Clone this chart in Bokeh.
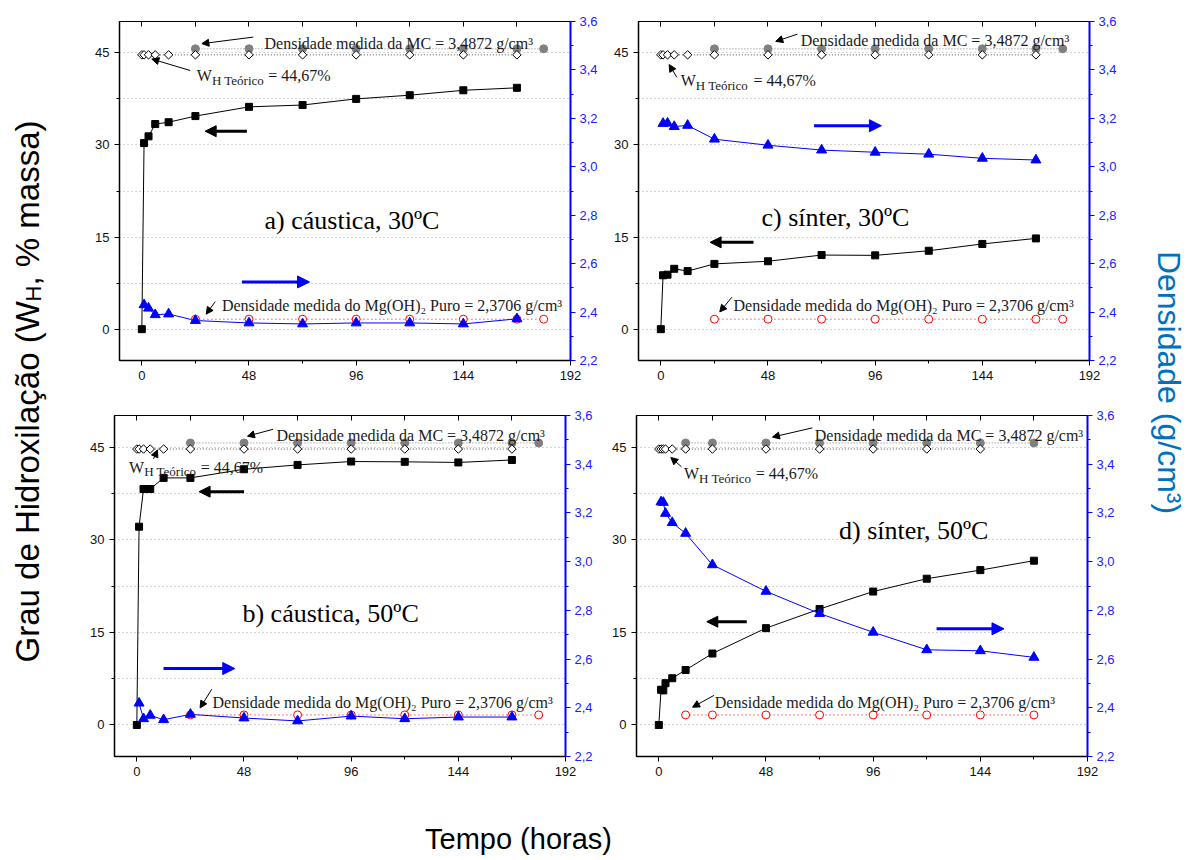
from math import pi
from bokeh.plotting import figure
from bokeh.models import (Range1d, LinearAxis, FixedTicker, CustomJSTickFormatter,
                          Label, Arrow, NormalHead)
from bokeh.layouts import row, column
from bokeh.embed import file_html
from bokeh.resources import INLINE

# ---------------- data ----------------
X_TICKS = [0, 48, 96, 144, 192]
X_MINOR = [24, 72, 120, 168]
Y_TICKS = [0, 15, 30, 45]
Y_MINOR = [7.5, 22.5, 37.5]
D_TICKS = [2.2, 2.4, 2.6, 2.8, 3.0, 3.2, 3.4, 3.6]
D_MINOR = [2.3, 2.5, 2.7, 2.9, 3.1, 3.3, 3.5]

MC_DENS = 3.4872      # Densidade medida da MC
MGOH2_DENS = 2.3706   # Densidade medida do Mg(OH)2 puro
WH_THEO = 44.67       # W_H teorico

# a) caustica, 30 C
t_a = [0, 1, 3, 6, 12, 24, 48, 72, 96, 120, 144, 168]
wh_a = [0.0, 30.3, 31.4, 33.4, 33.7, 34.7, 36.2, 36.5, 37.5, 38.1, 38.9, 39.3]
td_a = [1, 3, 6, 12, 24, 48, 72, 96, 120, 144, 168]
dens_a = [2.430, 2.416, 2.389, 2.392, 2.365, 2.355, 2.351, 2.355, 2.355, 2.351, 2.372]
tref_a = [24, 48, 72, 96, 120, 144, 168, 180]
ttheo_a = [0, 1, 3, 6, 12, 24, 48, 72, 96, 120, 144, 168]

# b) caustica, 50 C
t_b = [0, 1, 3, 6, 12, 24, 48, 72, 96, 120, 144, 168]
wh_b = [0.0, 32.1, 38.2, 38.2, 40.0, 40.0, 41.4, 42.1, 42.65, 42.6, 42.5, 42.9]
td_b = [1, 3, 6, 12, 24, 48, 72, 96, 120, 144, 168]
dens_b = [2.419, 2.355, 2.369, 2.351, 2.373, 2.358, 2.346, 2.366, 2.355, 2.362, 2.362]
tref_b = [24, 48, 72, 96, 120, 144, 168, 180]
ttheo_b = [0, 1, 3, 6, 12, 24, 48, 72, 96, 120, 144, 168]

# c) sinter, 30 C
t_c = [0, 1, 3, 6, 12, 24, 48, 72, 96, 120, 144, 168]
wh_c = [0.0, 8.78, 8.87, 9.83, 9.46, 10.63, 11.06, 12.07, 12.02, 12.77, 13.88, 14.78]
td_c = [1, 3, 6, 12, 24, 48, 72, 96, 120, 144, 168]
dens_c = [3.179, 3.180, 3.166, 3.171, 3.114, 3.089, 3.069, 3.060, 3.052, 3.035, 3.028]
tref_c = [24, 48, 72, 96, 120, 144, 168, 180]
ttheo_c = [0, 1, 3, 6, 12, 24, 48, 72, 96, 120, 144, 168]

# d) sinter, 50 C
t_d = [0, 1, 2, 3, 6, 12, 24, 48, 72, 96, 120, 144, 168]
wh_d = [0.0, 5.71, 5.60, 6.77, 7.57, 8.90, 11.57, 15.68, 18.77, 21.60, 23.68, 25.07, 26.60]
td_d = [1, 2, 3, 6, 12, 24, 48, 72, 96, 120, 144, 168]
dens_d = [3.245, 3.243, 3.198, 3.160, 3.116, 2.987, 2.878, 2.787, 2.710, 2.638, 2.634, 2.607]
tref_d = [12, 24, 48, 72, 96, 120, 144, 168]
ttheo_d = [0, 1, 2, 3, 6, 12, 24, 48, 72, 96, 120, 144]

TITLES = ["a) cáustica, 30ºC", "b) cáustica, 50ºC", "c) sínter, 30ºC", "d) sínter, 50ºC"]
MC_TEXT = "Densidade medida da MC = 3,4872 g/cm³"
MG_TEXT = "Densidade medida do Mg(OH)₂ Puro = 2,3706 g/cm³"

# ---------------- annotation placement (data units of each panel) ----------------
ANN = {
    "a": dict(mc=(54.95, 46.56), mc_arr=((49.9, 47.56), (26.9, 46.49)),
              w=(24.65, 41.32), wsub=(31.38, 40.52), weq=(56.61, 41.32),
              w_arr=((21.65, 42.12), (4.48, 43.99)),
              title=(54.95, 17.71), k_arr=((47.06, 32.24), (28.37, 32.24)),
              b_arr=((44.82, 7.69), (75.12, 7.69)),
              mg=(35.86, 3.80), mg_arr=((32.86, 4.48), (28.82, 2.45))),
    "b": dict(mc=(62.53, 46.91), mc_arr=((61.0, 47.87), (49.55, 46.75)),
              w=(-3.45, 41.76), wsub=(3.27, 40.96), weq=(28.65, 41.76),
              w_arr=((7.48, 43.08), (9.27, 44.52)),
              title=(47.31, 18.03), k_arr=((48.03, 37.77), (27.89, 37.77)),
              b_arr=((11.95, 9.14), (43.87, 9.14)),
              mg=(33.89, 3.67), mg_arr=((33.57, 5.79), (28.33, 2.76))),
    "c": dict(mc=(62.67, 47.08), mc_arr=((61.19, 48.04), (51.48, 46.86)),
              w=(8.95, 40.42), wsub=(15.67, 39.63), weq=(41.5, 40.42),
              w_arr=((7.16, 41.02), (3.72, 43.09)),
              title=(45.08, 18.13), k_arr=((41.5, 14.14), (22.07, 14.14)),
              b_arr=((68.62, 33.13), (98.79, 33.13)),
              mg=(32.54, 3.88), mg_arr=((31.8, 5.2), (26.41, 2.81))),
    "d": dict(mc=(69.83, 46.92), mc_arr=((68.8, 48.1), (50.9, 46.6)),
              w=(11.33, 40.75), wsub=(18.04, 39.95), weq=(43.42, 40.75),
              w_arr=((10.16, 41.8), (5.37, 43.3)),
              title=(80.71, 31.47), k_arr=((39.39, 16.72), (21.49, 16.72)),
              b_arr=((124.4, 15.57), (154.6, 15.57)),
              mg=(25.07, 3.57), mg_arr=((24.75, 4.8), (15.09, 2.88))),
}

SERIF = "Liberation Serif"
SANS = "Liberation Sans"
BLUE = "#0000ff"
TXT = "#1a1a1a"


def add_text(p, xy, text, size, color=TXT):
    p.add_layout(Label(x=xy[0], y=xy[1], text=text, text_font=SERIF,
                       text_font_size=f"{size}px", text_color=color,
                       text_align="left", text_baseline="alphabetic"))


def add_arrow(p, se, color, lw, head):
    (x0, y0), (x1, y1) = se
    p.add_layout(Arrow(end=NormalHead(size=head, fill_color=color, line_color=color, line_width=1),
                       x_start=x0, y_start=y0, x_end=x1, y_end=y1,
                       line_color=color, line_width=lw))


def build_panel(w, h, bl, br, bt, bb, t, wh, td, dens, tref, ttheo, ann, title):
    p = figure(width=w, height=h, x_range=Range1d(-10, 192), y_range=Range1d(-5.1, 50.1),
               output_backend="svg", toolbar_location=None,
               min_border_left=bl, min_border_right=br, min_border_top=bt, min_border_bottom=bb)
    p.extra_y_ranges = {"dens": Range1d(2.2, 3.6)}
    p.outline_line_color = "black"
    p.outline_line_width = 1
    p.background_fill_color = "white"
    p.border_fill_color = "white"

    xt = FixedTicker(ticks=X_TICKS, minor_ticks=X_MINOR)
    yt = FixedTicker(ticks=Y_TICKS, minor_ticks=Y_MINOR)
    dt = FixedTicker(ticks=D_TICKS, minor_ticks=D_MINOR)

    xa = p.xaxis[0]
    xa.ticker = xt
    ya = p.yaxis[0]
    ya.ticker = yt
    for ax in (xa, ya):
        ax.axis_line_color = "black"
        ax.axis_line_width = 1.5
        ax.major_tick_line_color = "black"
        ax.minor_tick_line_color = "black"
        ax.major_tick_in = 0
        ax.major_tick_out = 5
        ax.minor_tick_in = 0
        ax.minor_tick_out = 3
        ax.major_label_text_font = SANS
        ax.major_label_text_font_size = "13px"
        ax.major_label_text_color = "#111111"
        ax.major_label_standoff = 5

    ra = LinearAxis(y_range_name="dens", ticker=dt,
                    formatter=CustomJSTickFormatter(code="return tick.toFixed(1).replace('.', ',');"))
    ra.axis_line_color = BLUE
    ra.axis_line_width = 2
    ra.major_tick_line_color = BLUE
    ra.minor_tick_line_color = BLUE
    ra.major_tick_in = 0
    ra.major_tick_out = 5
    ra.minor_tick_in = 0
    ra.minor_tick_out = 3
    ra.major_label_text_font = SANS
    ra.major_label_text_font_size = "13px"
    ra.major_label_text_color = "#2020ff"
    ra.major_label_standoff = 4
    p.add_layout(ra, "right")

    # top axis: tick marks only (drawn as minor ticks, so no labels exist)
    ta = LinearAxis(ticker=FixedTicker(ticks=[], minor_ticks=X_TICKS + X_MINOR))
    ta.axis_line_color = "black"
    ta.minor_tick_line_color = "black"
    ta.minor_tick_in = 5
    ta.minor_tick_out = 0
    ta.major_label_standoff = 0
    p.add_layout(ta, "above")

    p.xgrid.visible = False
    p.ygrid.ticker = yt
    p.ygrid.grid_line_color = "#a8a8a8"
    p.ygrid.grid_line_dash = "1 3"
    p.ygrid.minor_grid_line_color = "#a8a8a8"
    p.ygrid.minor_grid_line_dash = "1 3"

    mc = [MC_DENS for _ in tref]
    mg = [MGOH2_DENS for _ in tref]
    th = [WH_THEO for _ in ttheo]

    p.line(ttheo, th, line_color="#555555", line_width=1, line_dash="1 2")
    p.line(tref, mc, y_range_name="dens", line_color="#808080", line_width=1, line_dash="1 2")
    p.line(tref, mg, y_range_name="dens", line_color="#ff0000", line_width=1, line_dash="1 3")
    p.line(t, wh, line_color="black", line_width=1)
    p.line(td, dens, y_range_name="dens", line_color=BLUE, line_width=1)

    p.scatter(tref, mc, y_range_name="dens", marker="circle", size=8,
              fill_color="#808080", line_color="#808080")
    p.scatter(ttheo, th, marker="square", angle=pi / 4, size=6,
              fill_color="white", line_color="black", line_width=1)
    p.scatter(tref, mg, y_range_name="dens", marker="circle", size=8,
              fill_color="white", line_color="#ff0000", line_width=1)
    p.scatter(t, wh, marker="square", size=7, fill_color="black", line_color="black")
    p.scatter(td, dens, y_range_name="dens", marker="triangle", size=10,
              fill_color=BLUE, line_color=BLUE)

    # annotations
    add_text(p, ann["mc"], MC_TEXT, 16)
    add_arrow(p, ann["mc_arr"], "black", 1, 7)
    add_text(p, ann["w"], "W", 16)
    add_text(p, ann["wsub"], "H Teórico", 13)
    add_text(p, ann["weq"], "= 44,67%", 16)
    add_arrow(p, ann["w_arr"], "black", 1, 7)
    add_text(p, ann["title"], title, 26, "black")
    add_arrow(p, ann["k_arr"], "black", 3, 11)
    add_arrow(p, ann["b_arr"], BLUE, 3, 12)
    add_text(p, ann["mg"], MG_TEXT, 16)
    add_arrow(p, ann["mg_arr"], "black", 1, 7)
    return p


pa = build_panel(540, 395, 55, 34, 15, 35, t_a, wh_a, td_a, dens_a, tref_a, ttheo_a, ANN["a"], TITLES[0])
pc = build_panel(526, 395, 34, 41, 21, 31, t_c, wh_c, td_c, dens_c, tref_c, ttheo_c, ANN["c"], TITLES[2])
pb = build_panel(540, 415, 50, 39, 20, 50, t_b, wh_b, td_b, dens_b, tref_b, ttheo_b, ANN["b"], TITLES[1])
pd = build_panel(526, 415, 32, 43, 17, 54, t_d, wh_d, td_d, dens_d, tref_d, ttheo_d, ANN["d"], TITLES[3])


def label_fig(w, h):
    f = figure(width=w, height=h, x_range=Range1d(0, w), y_range=Range1d(0, h),
               output_backend="svg", toolbar_location=None, min_border=0,
               x_axis_type=None, y_axis_type=None)
    f.outline_line_color = None
    f.grid.visible = False
    f.background_fill_color = "white"
    f.border_fill_color = "white"
    return f


# left global label (with subscript H)
lf = label_fig(64, 810)
y0 = 148
lf.add_layout(Label(x=27, y=y0, text="Grau de Hidroxilação (W", angle=pi / 2,
                    text_font=SANS, text_font_size="33px", text_color="black",
                    text_align="left", text_baseline="alphabetic"))
lf.add_layout(Label(x=33, y=y0 + 361, text="H", angle=pi / 2,
                    text_font=SANS, text_font_size="22px", text_color="black",
                    text_align="left", text_baseline="alphabetic"))
lf.add_layout(Label(x=27, y=y0 + 377, text=", % massa)", angle=pi / 2,
                    text_font=SANS, text_font_size="33px", text_color="black",
                    text_align="left", text_baseline="alphabetic"))

# right global label
rf = label_fig(63, 810)
rf.add_layout(Label(x=38, y=428, text="Densidade (g/cm³)", angle=-pi / 2,
                    text_font=SANS, text_font_size="32px", text_color="#0070c0",
                    text_align="center", text_baseline="middle"))

# bottom global label
bf = label_fig(1193, 48)
bf.add_layout(Label(x=518, y=20, text="Tempo (horas)",
                    text_font=SANS, text_font_size="29px", text_color="black",
                    text_align="center", text_baseline="middle"))

grid = column(row(pa, pc), row(pb, pd))
layout = column(row(lf, grid, rf), bf)

open("out.html", "w").write(file_html(layout, INLINE))
